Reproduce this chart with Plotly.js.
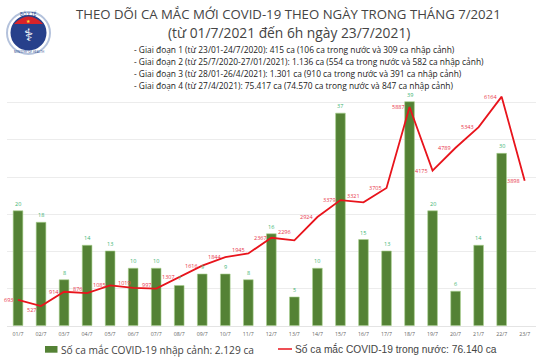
<!DOCTYPE html>
<html><head><meta charset="utf-8">
<script src="https://cdn.plot.ly/plotly-3.0.1.min.js"></script>
<style>html,body{margin:0;padding:0;background:#fff;overflow:hidden}#c{width:540px;height:360px}</style>
</head><body><div id="c"></div>
<script>
const days=["01/7","02/7","03/7","04/7","05/7","06/7","07/7","08/7","09/7","10/7","11/7","12/7","13/7","14/7","15/7","16/7","17/7","18/7","19/7","20/7","21/7","22/7","23/7"];
const imported=[20,18,8,14,13,10,10,7,9,9,8,16,5,10,37,15,13,39,20,6,14,30,null];
const domestic=[693,527,914,876,1085,1019,997,1307,1616,1844,1945,2367,2296,2924,3379,3321,3705,5887,4175,4789,5343,6164,3898];
const lineDx=[-10,-10,-10,-10,-11,-9,-10,-11,-11,-11,-10,-11,-10,-11,-11,-10,-11,-11,-11,-11,-11,-11,-11];
const lineDy=[0,-4,0,4,0,5,4,0,0,0,3,0,8,0,0,6,0,0,0,0,0,0,0];
const notes=["- Giai đoạn 1 (từ 23/01-24/7/2020): 415 ca (106 ca trong nước và 309 ca nhập cảnh)",
"- Giai đoạn 2 (từ 25/7/2020-27/01/2021): 1.136 ca (554 ca trong nước và 582 ca nhập cảnh)",
"- Giai đoạn 3 (từ 28/01-26/4/2021): 1.301 ca (910 ca trong nước và 391 ca nhập cảnh)",
"- Giai đoạn 4 (từ 27/4/2021): 75.417 ca (74.570 ca trong nước và 847 ca nhập cảnh)"];
const W=540,H=360;
const px=v=>v/W, py=v=>1-v/H;
const font="'Open Sans','Noto Sans',sans-serif";
const ann=[];
function pageText(x,y,text,size,color,anchor,fam){ann.push({xref:'paper',yref:'paper',x:px(x),y:py(y),text,showarrow:false,xanchor:anchor||'left',yanchor:'middle',font:{size,color,family:fam||font}});}
pageText(288.5,14,"THEO DÕI CA MẮC MỚI COVID-19 THEO NGÀY TRONG THÁNG 7/2021",13.2,"#444",'center');
pageText(288.5,32.5,"(từ 01/7/2021 đến 6h ngày 23/7/2021)",13.8,"#444",'center');
notes.forEach((n,i)=>pageText(132,50+i*11.7,n,8.4,"#222"));
imported.forEach((v,i)=>{if(v!==null)ann.push({x:days[i],y:v,xref:'x',yref:'y',text:String(v),showarrow:false,yanchor:'bottom',yshift:1,font:{size:5.5,color:"#3cb371",family:font}})});
domestic.forEach((v,i)=>ann.push({x:days[i],y:v,xref:'x',yref:'y2',text:String(v),showarrow:false,xshift:lineDx[i],yshift:lineDy[i],font:{size:5.5,color:"#e8354a",family:font}}));
pageText(59,349.5,"Số ca mắc COVID-19 nhập cảnh: 2.129 ca",10.2,"#444");
pageText(292.5,349,"Số ca mắc COVID-19 trong nước: 76.140 ca",10.2,"#444",'left',"'Liberation Sans',sans-serif");
pageText(28.5,13.5,"BỘ Y TẾ",4.5,"#1c3f8a",'center');
pageText(28.5,51.8,"MINISTRY OF HEALTH",3,"#1c3f8a",'center');
pageText(28.5,20.5,"★",5,"#ffd83a",'center',"'DejaVu Sans'");
pageText(28.5,35.5,"⚕",17,"#fff",'center',"'DejaVu Sans'");
const circle=(x0,y0,x1,y1,fill,line)=>({type:'circle',xref:'paper',yref:'paper',x0:px(x0),x1:px(x1),y0:py(y0),y1:py(y1),fillcolor:fill,line:{color:line||fill,width:2},layer:'above'});
const shapes=[
 circle(7,12,50,54,"#fff","#b4c2dc"),
 circle(11.5,16,45.5,49.5,"#27408b"),
 {type:'path',xref:'paper',yref:'paper',path:`M ${px(14)} ${py(24)} Q ${px(28.5)} ${py(9)} ${px(43)} ${py(24)} Z`,fillcolor:"#d8232a",line:{width:0},layer:'above'},
 {type:'rect',xref:'paper',yref:'paper',x0:px(45),x1:px(57.5),y0:py(346),y1:py(352.7),fillcolor:"#548235",line:{width:0}},
 {type:'line',xref:'paper',yref:'paper',x0:px(278),x1:px(292),y0:py(349),y1:py(349),line:{color:"#e8141c",width:1.5}}
];
const data=[
 {type:'bar',x:days,y:imported,yaxis:'y',marker:{color:"#548235",line:{color:"#a9d18e",width:0.6}},width:0.42,hoverinfo:'skip'},
 {type:'scatter',mode:'lines',x:days,y:domestic,yaxis:'y2',line:{color:"#e8141c",width:1.8},hoverinfo:'skip'}
];
const plotTop=90,plotBottom=325.7,plotLeft=6.5,plotRight=536.2;
const y2Max=(plotBottom-plotTop)/0.03716, yMax=(plotBottom-plotTop)/5.745;
const layout={width:W,height:H,margin:{l:0,r:0,t:0,b:0},paper_bgcolor:"#fff",plot_bgcolor:"#fff",showlegend:false,
 xaxis:{domain:[px(plotLeft),px(plotRight)],type:'category',range:[-0.5,22.5],autorange:false,tickfont:{size:5.3,color:"#666",family:font},ticks:'outside',ticklen:3,tickcolor:"rgba(255,255,255,0)",showline:true,linecolor:"#e4e4e4",linewidth:1,anchor:'y',fixedrange:true},
 yaxis:{domain:[1-plotBottom/H,1-plotTop/H],range:[0,yMax],showticklabels:false,showgrid:false,zeroline:false,fixedrange:true},
 yaxis2:{domain:[1-plotBottom/H,1-plotTop/H],overlaying:'y',side:'left',range:[0,y2Max],tick0:0,dtick:1000,showticklabels:false,showgrid:true,gridcolor:"#ececec",gridwidth:1,zeroline:false,fixedrange:true},
 annotations:ann,shapes:shapes};
Plotly.newPlot('c',data,layout,{displayModeBar:false,staticPlot:true});
</script></body></html>
